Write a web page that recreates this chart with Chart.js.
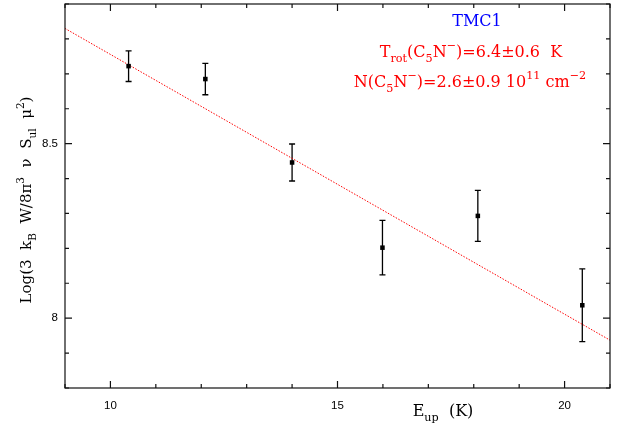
<!DOCTYPE html>
<html>
<head>
<meta charset="utf-8">
<script src="https://cdn.jsdelivr.net/npm/chart.js@4.4.1/dist/chart.umd.min.js"></script>
<style>
  html, body { margin: 0; padding: 0; background: #fff; }
</style>
</head>
<body>
<canvas id="rotdiag" width="627" height="423"></canvas>
<script>
// upper level energies (K) and the log intensity term for each line
const eUp = [10.40, 12.09, 14.00, 15.99, 18.09, 20.39]
const logNu = [8.722, 8.685, 8.446, 8.202, 8.293, 8.037]
const logErr = [0.044, 0.045, 0.053, 0.078, 0.073, 0.104]

// straight line fit, evaluated at the axis limits
const fitX = [9, 21]
const fitY = [8.830, 7.937]

const xTickLabels = [10, 15, 20]
const yTickLabels = [8, 8.5]

const serif = '"DejaVu Serif", serif'

// draws a string made of normal / subscript / superscript pieces
// parts: [text, shift]  shift: 0 normal, -1 sub, 1 sup
function drawRich(ctx, parts, x, y, size, color) {
    let total = 0
    parts.forEach(function(p) {
        ctx.font = (p[1] ? size * 0.7 : size) + 'px ' + serif
        total += ctx.measureText(p[0]).width
    })
    let cx = x - total / 2
    ctx.fillStyle = color
    ctx.textAlign = 'left'
    ctx.textBaseline = 'alphabetic'
    parts.forEach(function(p) {
        ctx.font = (p[1] ? size * 0.7 : size) + 'px ' + serif
        let dy = 0
        if (p[1] < 0) dy = size * 0.3
        if (p[1] > 0) dy = -size * 0.5
        ctx.fillText(p[0], cx, y + dy)
        cx += ctx.measureText(p[0]).width
    })
}

const errorBars = {
    id: 'errorBars',
    beforeDatasetsDraw(chart) {
        const ctx = chart.ctx
        const ys = chart.scales.y
        const meta = chart.getDatasetMeta(0)
        ctx.save()
        ctx.strokeStyle = '#000'
        ctx.lineWidth = 1.3
        meta.data.forEach(function(pt, i) {
            const top = ys.getPixelForValue(logNu[i] + logErr[i])
            const bot = ys.getPixelForValue(logNu[i] - logErr[i])
            ctx.beginPath()
            ctx.moveTo(pt.x, top)
            ctx.lineTo(pt.x, bot)
            ctx.moveTo(pt.x - 3, top)
            ctx.lineTo(pt.x + 3, top)
            ctx.moveTo(pt.x - 3, bot)
            ctx.lineTo(pt.x + 3, bot)
            ctx.stroke()
        })
        ctx.restore()
    }
}

// frame with inward ticks on all four sides, plus labels
const frame = {
    id: 'frame',
    afterDraw(chart) {
        const ctx = chart.ctx
        const a = chart.chartArea
        const xs = chart.scales.x
        const ys = chart.scales.y
        ctx.save()
        ctx.strokeStyle = '#111'
        ctx.lineWidth = 1.2
        ctx.strokeRect(a.left, a.top, a.right - a.left, a.bottom - a.top)
        ctx.beginPath()
        xs.ticks.forEach(function(t) {
            const px = xs.getPixelForValue(t.value)
            const len = Math.abs(t.value % 5) < 1e-6 ? 7 : 4
            ctx.moveTo(px, a.bottom)
            ctx.lineTo(px, a.bottom - len)
            ctx.moveTo(px, a.top)
            ctx.lineTo(px, a.top + len)
        })
        ys.ticks.forEach(function(t) {
            const py = ys.getPixelForValue(t.value)
            const r = Math.abs(t.value * 2 - Math.round(t.value * 2))
            const len = r < 1e-6 ? 7 : 4
            ctx.moveTo(a.left, py)
            ctx.lineTo(a.left + len, py)
            ctx.moveTo(a.right, py)
            ctx.lineTo(a.right - len, py)
        })
        ctx.stroke()

        drawRich(ctx, [['TMC1', 0]], 477, 26, 16, '#0000ff')
        drawRich(ctx, [['T', 0], ['rot', -1], ['(C', 0], ['5', -1], ['N', 0], ['\u2212', 1],
            [')=6.4\u00b10.6  K', 0]], 471, 57, 16, '#ff0000')
        drawRich(ctx, [['N(C', 0], ['5', -1], ['N', 0], ['\u2212', 1], [')=2.6\u00b10.9 10', 0],
            ['11', 1], [' cm', 0], ['\u22122', 1]], 470, 87, 16, '#ff0000')

        drawRich(ctx, [['E', 0], ['up', -1], ['  (K)', 0]], 443, 416, 16, '#000')

        ctx.translate(31, 200)
        ctx.rotate(-Math.PI / 2)
        drawRich(ctx, [['Log(3  k', 0], ['B', -1], ['  W/8\u03c0', 0], ['3', 1], ['  \u03bd  S', 0],
            ['ul', -1], ['  \u03bc', 0], ['2', 1], [')', 0]], 0, 0, 15, '#000')
        ctx.restore()
    }
}

const points = eUp.map(function(x, i) { return { x: x, y: logNu[i] } })
const fitLine = fitX.map(function(x, i) { return { x: x, y: fitY[i] } })

new Chart(document.getElementById('rotdiag'), {
    type: 'scatter',
    data: {
        datasets: [{
            data: points,
            pointStyle: 'rect',
            pointRadius: 3.2,
            backgroundColor: '#000',
            borderWidth: 0
        }, {
            type: 'line',
            data: fitLine,
            borderColor: '#ff0000',
            borderWidth: 1,
            borderDash: [1.5, 1.5],
            pointRadius: 0,
            fill: false
        }]
    },
    options: {
        responsive: false,
        animation: false,
        layout: { padding: { left: 0, top: 3, right: 17, bottom: 0 } },
        plugins: {
            legend: { display: false },
            tooltip: { enabled: false }
        },
        scales: {
            x: {
                type: 'linear',
                min: 9,
                max: 21,
                grid: { display: false, drawTicks: false },
                border: { display: false },
                afterFit: function(s) {
                    s.height = 35
                    s.paddingLeft = 0
                    s.paddingRight = 0
                },
                ticks: {
                    stepSize: 1,
                    padding: 11,
                    maxRotation: 0,
                    autoSkip: false,
                    color: '#000',
                    font: { family: '"Liberation Sans", sans-serif', size: 11.5 },
                    callback: function(v) { return xTickLabels.includes(v) ? String(v) : '' }
                }
            },
            y: {
                min: 7.8,
                max: 8.9,
                grid: { display: false, drawTicks: false },
                border: { display: false },
                afterFit: function(s) {
                    s.width = 65
                    s.paddingTop = 0
                    s.paddingBottom = 0
                },
                ticks: {
                    stepSize: 0.1,
                    padding: 7,
                    autoSkip: false,
                    color: '#000',
                    font: { family: '"Liberation Sans", sans-serif', size: 11.5 },
                    callback: function(v) {
                        const hit = yTickLabels.find(function(t) { return Math.abs(t - v) < 1e-6 })
                        return hit === undefined ? '' : String(hit)
                    }
                }
            }
        }
    },
    plugins: [errorBars, frame]
})
</script>
</body>
</html>
